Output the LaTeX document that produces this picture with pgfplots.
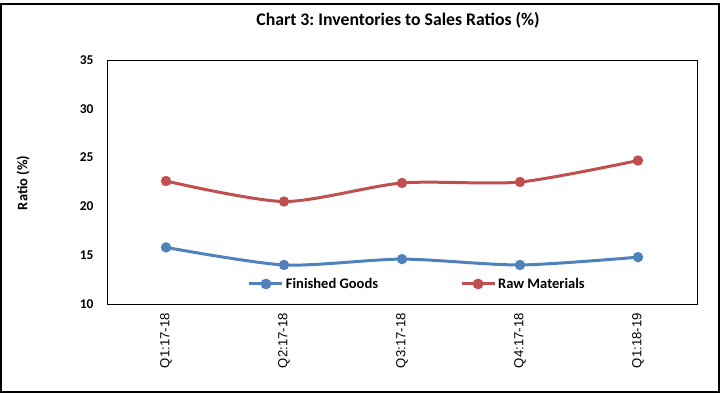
\documentclass[border=0pt]{standalone}
\usepackage{pgfplots}
\pgfplotsset{compat=1.18}
\usepackage{fontspec}
\setmainfont{Carlito}
\newfontfamily\arialfont{Liberation Sans}
\definecolor{fgblue}{HTML}{4F81BD}
\definecolor{rmred}{HTML}{C0504D}
\frenchspacing
\begin{document}
\begin{tikzpicture}
\useasboundingbox (-107bp,-91bp) rectangle (616bp,304bp);
\draw[black, line width=1.2bp] (-106bp,-88bp) rectangle (612bp,300bp);
\begin{axis}[
  at={(0,0)}, anchor=south west,
  scale only axis, width=590bp, height=244bp,
  xmin=-0.5, xmax=4.5, ymin=10, ymax=35,
  xtick={0,1,2,3,4},
  xticklabels={Q1:17-18,Q2:17-18,Q3:17-18,Q4:17-18,Q1:18-19},
  x tick label style={rotate=90, anchor=east, font=\arialfont\fontsize{13.2}{15}\selectfont, inner sep=1bp},
  ytick={10,15,20,25,30,35},
  y tick label style={font=\bfseries\fontsize{13.5}{15}\selectfont},
  /pgf/number format/assume math mode=true,
  major tick length=0pt,
  xticklabel shift=8bp, yticklabel shift=10bp,
  axis line style={black, line width=0.9bp},
  legend style={at={(0.526,0.082)}, anchor=center, draw=none, fill=none,
    legend columns=2, font=\bfseries\fontsize{14.6}{16}\selectfont,
    /tikz/every even column/.append style={column sep=80bp}},
  legend image code/.code={\draw[#1, line width=3bp] (0bp,0bp) -- (33bp,0bp); \fill[#1] (16.5bp,0bp) circle (3.8bp);},
]
\addplot[fgblue, line width=3bp, smooth, tension=0.45, mark=*, mark size=3.6bp, mark options={fill=fgblue, draw=fgblue}]
  coordinates {(0,15.8) (1,14.0) (2,14.6) (3,14.0) (4,14.8)};
\addlegendentry{Finished Goods}
\addplot[rmred, line width=3bp, smooth, tension=0.45, mark=*, mark size=3.6bp, mark options={fill=rmred, draw=rmred}]
  coordinates {(0,22.6) (1,20.5) (2,22.4) (3,22.5) (4,24.7)};
\addlegendentry{Raw Materials}
\end{axis}
\node[font=\bfseries\fontsize{17.8}{20}\selectfont] at (291bp,284bp) {Chart 3: Inventories to Sales Ratios (\%)};
\node[font=\bfseries\fontsize{14.5}{16}\selectfont, rotate=90] at (-84bp,121bp) {Ratio (\%)};
\end{tikzpicture}
\end{document}
